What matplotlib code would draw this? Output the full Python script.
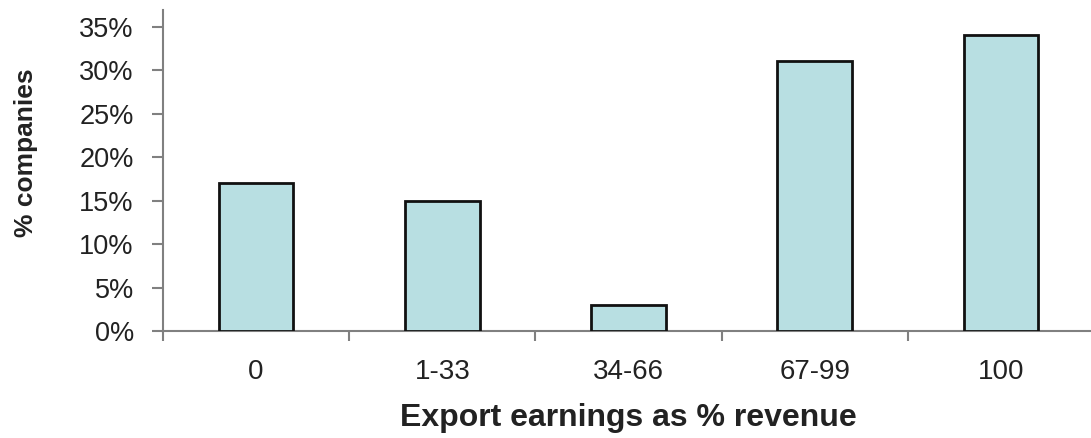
import matplotlib
matplotlib.use("Agg")
import matplotlib.pyplot as plt
from matplotlib.ticker import PercentFormatter

categories = ["0", "1-33", "34-66", "67-99", "100"]
shares = [17, 15, 3, 31, 34]  # % of companies
yticks = [0, 5, 10, 15, 20, 25, 30, 35]

plt.rcParams["font.family"] = ["Liberation Sans", "DejaVu Sans"]

fig = plt.figure(figsize=(10.91, 4.38), dpi=100)
# axes box in pixels: left 163, right ~1094 (just past the edge), bottom 331, top 10
ax = fig.add_axes([163 / 1091, 1 - 331 / 438, (1094 - 163) / 1091, (331 - 10) / 438])

x = list(range(len(categories)))
ax.bar(x, shares, width=0.4, color="#b8dfe2", edgecolor="#111111", linewidth=2, zorder=3)

ax.set_xlim(-0.5, len(categories) - 0.5)
ax.set_ylim(0, 36.9)
ax.set_yticks(yticks)
ax.yaxis.set_major_formatter(PercentFormatter(decimals=0))
ax.set_xticks(x)
ax.set_xticklabels(categories)
ax.set_xticks([i - 0.5 for i in range(len(categories) + 1)], minor=True)

for side in ["top", "right"]:
    ax.spines[side].set_visible(False)
for side in ["left", "bottom"]:
    ax.spines[side].set_color("#808080")
    ax.spines[side].set_linewidth(1.5)

ax.tick_params(axis="y", direction="out", length=8, width=1.5, color="#808080",
               labelsize=19.5, labelcolor="#222222", pad=13)
ax.tick_params(axis="x", which="major", length=0, labelsize=20, labelcolor="#222222", pad=20)
ax.tick_params(axis="x", which="minor", direction="out", length=7.5, width=1.5, color="#808080")

ax.set_xlabel("Export earnings as % revenue", fontsize=23, fontweight="bold", color="#222222", labelpad=13)
ax.set_ylabel("% companies", fontsize=19, fontweight="bold", color="#222222")
ax.yaxis.set_label_coords(-0.134, 0.555)

fig.savefig("out.png", dpi=100)
